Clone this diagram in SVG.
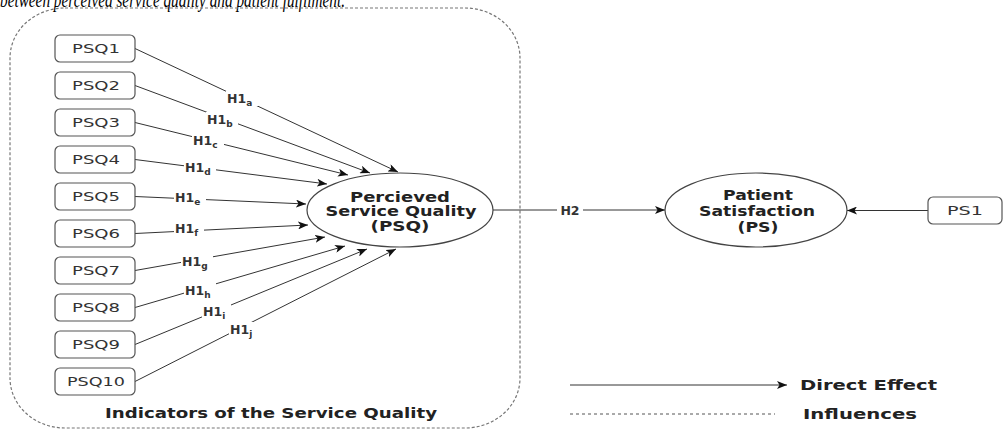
<svg xmlns="http://www.w3.org/2000/svg" width="1004" height="430" viewBox="0 0 1004 430">
<style>
.box{fill:#fff;stroke:#555;stroke-width:1.2}
.ell{fill:#fff;stroke:#444;stroke-width:1.2}
.bl{font-family:"DejaVu Sans",sans-serif;font-size:12.5px;fill:#333;text-anchor:middle}
.et{font-family:"DejaVu Sans",sans-serif;font-weight:bold;font-size:14px;fill:#222;text-anchor:middle}
.lab{font-family:"DejaVu Sans",sans-serif;font-weight:bold;font-size:12.5px;fill:#333}
.sub{font-size:9px}
.ln{stroke:#333;stroke-width:1;fill:none}
.bg{fill:#fff}
.leg{font-family:"DejaVu Sans",sans-serif;font-weight:bold;font-size:14px;fill:#222}
</style>
<defs>
<marker id="ah" viewBox="0 0 10 8" refX="10" refY="4" markerWidth="10" markerHeight="8" markerUnits="userSpaceOnUse" orient="auto">
<path d="M0,0 L10,4 L0,8 L2.5,4 Z" fill="#111"/>
</marker>
</defs>
<rect width="1004" height="430" fill="#fff"/>
<text x="0" y="7" font-family="Liberation Serif, serif" font-style="italic" font-size="20" fill="#000" textLength="345" lengthAdjust="spacingAndGlyphs">between perceived service quality and patient fulfilment.</text>
<g id="container">
<rect x="10" y="8" width="510" height="420" rx="55" ry="50" fill="none" stroke="#777" stroke-width="1.2" stroke-dasharray="3 2"/>
<text class="leg" x="105" y="418" textLength="332" lengthAdjust="spacingAndGlyphs">Indicators of the Service Quality</text>
</g>
<g id="connectors">
<line class="ln" x1="135" y1="48.5" x2="398" y2="172" marker-end="url(#ah)"/>
<line class="ln" x1="135" y1="85.5" x2="370" y2="173" marker-end="url(#ah)"/>
<line class="ln" x1="135" y1="122.5" x2="348" y2="175" marker-end="url(#ah)"/>
<line class="ln" x1="135" y1="159.5" x2="327" y2="184" marker-end="url(#ah)"/>
<line class="ln" x1="135" y1="196.5" x2="306" y2="204" marker-end="url(#ah)"/>
<line class="ln" x1="135" y1="233.5" x2="308" y2="225" marker-end="url(#ah)"/>
<line class="ln" x1="135" y1="270.5" x2="325" y2="237" marker-end="url(#ah)"/>
<line class="ln" x1="135" y1="307.5" x2="345" y2="246" marker-end="url(#ah)"/>
<line class="ln" x1="135" y1="344.5" x2="367" y2="249" marker-end="url(#ah)"/>
<line class="ln" x1="135" y1="381.5" x2="396" y2="249" marker-end="url(#ah)"/>
<line class="ln" x1="493" y1="210" x2="665" y2="210" marker-end="url(#ah)"/>
<line class="ln" x1="928" y1="210.5" x2="847" y2="210.5" marker-end="url(#ah)"/>
<g id="labels">
<rect class="bg" x="226" y="91" width="32" height="15"/>
<text class="lab" x="227" y="103">H1<tspan class="sub" dy="3">a</tspan></text>
<rect class="bg" x="206" y="112" width="32" height="15"/>
<text class="lab" x="207" y="124">H1<tspan class="sub" dy="3">b</tspan></text>
<rect class="bg" x="192" y="133" width="32" height="15"/>
<text class="lab" x="193" y="145">H1<tspan class="sub" dy="3">c</tspan></text>
<rect class="bg" x="184" y="160" width="32" height="15"/>
<text class="lab" x="185" y="172">H1<tspan class="sub" dy="3">d</tspan></text>
<rect class="bg" x="174" y="190" width="32" height="15"/>
<text class="lab" x="175" y="202">H1<tspan class="sub" dy="3">e</tspan></text>
<rect class="bg" x="174" y="221" width="30" height="15"/>
<text class="lab" x="175" y="233">H1<tspan class="sub" dy="3">f</tspan></text>
<rect class="bg" x="181" y="254" width="32" height="15"/>
<text class="lab" x="182" y="266">H1<tspan class="sub" dy="3">g</tspan></text>
<rect class="bg" x="184" y="283" width="32" height="15"/>
<text class="lab" x="185" y="295">H1<tspan class="sub" dy="3">h</tspan></text>
<rect class="bg" x="202" y="304" width="29" height="15"/>
<text class="lab" x="203" y="316">H1<tspan class="sub" dy="3">i</tspan></text>
<rect class="bg" x="229" y="322" width="29" height="15"/>
<text class="lab" x="230" y="334">H1<tspan class="sub" dy="3">j</tspan></text>
<rect class="bg" x="557" y="203" width="26" height="14"/>
<text class="lab" x="570" y="214.5" text-anchor="middle">H2</text>
</g>
</g>
<g id="PSQ1"><rect class="box" x="55" y="35" width="80" height="27" rx="5"/><text class="bl" x="96" y="53" textLength="48" lengthAdjust="spacingAndGlyphs">PSQ1</text></g>
<g id="PSQ2"><rect class="box" x="55" y="72" width="80" height="27" rx="5"/><text class="bl" x="96" y="90" textLength="48" lengthAdjust="spacingAndGlyphs">PSQ2</text></g>
<g id="PSQ3"><rect class="box" x="55" y="109" width="80" height="27" rx="5"/><text class="bl" x="96" y="127" textLength="48" lengthAdjust="spacingAndGlyphs">PSQ3</text></g>
<g id="PSQ4"><rect class="box" x="55" y="146" width="80" height="27" rx="5"/><text class="bl" x="96" y="164" textLength="48" lengthAdjust="spacingAndGlyphs">PSQ4</text></g>
<g id="PSQ5"><rect class="box" x="55" y="183" width="80" height="27" rx="5"/><text class="bl" x="96" y="201" textLength="48" lengthAdjust="spacingAndGlyphs">PSQ5</text></g>
<g id="PSQ6"><rect class="box" x="55" y="220" width="80" height="27" rx="5"/><text class="bl" x="96" y="238" textLength="48" lengthAdjust="spacingAndGlyphs">PSQ6</text></g>
<g id="PSQ7"><rect class="box" x="55" y="257" width="80" height="27" rx="5"/><text class="bl" x="96" y="275" textLength="48" lengthAdjust="spacingAndGlyphs">PSQ7</text></g>
<g id="PSQ8"><rect class="box" x="55" y="294" width="80" height="27" rx="5"/><text class="bl" x="96" y="312" textLength="48" lengthAdjust="spacingAndGlyphs">PSQ8</text></g>
<g id="PSQ9"><rect class="box" x="55" y="331" width="80" height="27" rx="5"/><text class="bl" x="96" y="349" textLength="48" lengthAdjust="spacingAndGlyphs">PSQ9</text></g>
<g id="PSQ10"><rect class="box" x="55" y="368" width="80" height="27" rx="5"/><text class="bl" x="96" y="386" textLength="58" lengthAdjust="spacingAndGlyphs">PSQ10</text></g>
<g id="PSQ">
<ellipse class="ell" cx="400" cy="210" rx="93" ry="37"/>
<text class="et" x="400" y="202" textLength="100" lengthAdjust="spacingAndGlyphs">Percieved</text>
<text class="et" x="401" y="216" textLength="151" lengthAdjust="spacingAndGlyphs">Service Quality</text>
<text class="et" x="400" y="231" textLength="59" lengthAdjust="spacingAndGlyphs">(PSQ)</text>
</g>
<g id="PS">
<ellipse class="ell" cx="756" cy="210" rx="91" ry="37"/>
<text class="et" x="758" y="200" textLength="70" lengthAdjust="spacingAndGlyphs">Patient</text>
<text class="et" x="757" y="216" textLength="116" lengthAdjust="spacingAndGlyphs">Satisfaction</text>
<text class="et" x="758" y="232" textLength="41" lengthAdjust="spacingAndGlyphs">(PS)</text>
</g>
<g id="PS1"><rect class="box" x="928" y="197" width="74" height="27" rx="5"/><text class="bl" x="965" y="215" textLength="36" lengthAdjust="spacingAndGlyphs">PS1</text></g>
<g id="legend">
<line class="ln" x1="570" y1="385" x2="787" y2="385" marker-end="url(#ah)"/>
<text class="leg" x="800" y="390" textLength="137" lengthAdjust="spacingAndGlyphs">Direct Effect</text>
<line x1="570" y1="414" x2="775" y2="414" stroke="#555" stroke-width="1" stroke-dasharray="3 3"/>
<text class="leg" x="803" y="419" textLength="114" lengthAdjust="spacingAndGlyphs">Influences</text>
</g>
</svg>
